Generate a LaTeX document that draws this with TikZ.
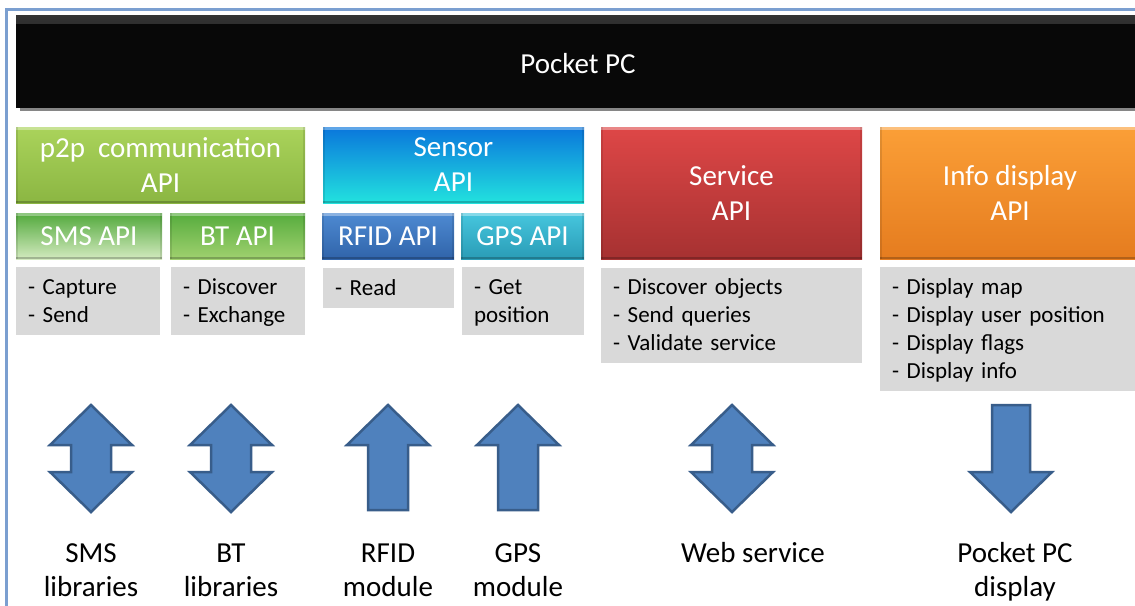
\documentclass[tikz,border=0pt]{standalone}
\usepackage{fontspec}
\setmainfont{Carlito}
\definecolor{bordercol}{HTML}{7B9FD0}
\definecolor{grayfill}{HTML}{D9D9D9}
\definecolor{p2pT}{HTML}{AAD35B}
\definecolor{p2pB}{HTML}{8BB642}
\definecolor{smsT}{HTML}{52A93C}
\definecolor{smsB}{HTML}{D3EABF}
\definecolor{btT}{HTML}{56AC3D}
\definecolor{btB}{HTML}{A0D16F}
\definecolor{senT}{HTML}{0A76DC}
\definecolor{senB}{HTML}{22E2DE}
\definecolor{rfT}{HTML}{4E8AD2}
\definecolor{rfB}{HTML}{3064AA}
\definecolor{gpT}{HTML}{46C6DE}
\definecolor{gpB}{HTML}{2A9CB6}
\definecolor{svT}{HTML}{DE4747}
\definecolor{svB}{HTML}{A63131}
\definecolor{inT}{HTML}{FB9F37}
\definecolor{inB}{HTML}{E57C1F}
\definecolor{arrF}{HTML}{4F81BD}
\definecolor{arrD}{HTML}{385D8A}
\tikzset{
  bevel/.style={path picture={
    \fill[white,opacity=.35] (path picture bounding box.north west) rectangle ([yshift=-2.5pt]path picture bounding box.north east);
    \fill[black,opacity=.22] ([yshift=2.5pt]path picture bounding box.south west) rectangle (path picture bounding box.south east);
    \fill[black,opacity=.10] (path picture bounding box.north west) rectangle ([xshift=2pt]path picture bounding box.south west);
    \fill[black,opacity=.10] ([xshift=-2pt]path picture bounding box.north east) rectangle (path picture bounding box.south east);
  }},
  hdr/.style={rectangle, draw=none, inner sep=0pt, text=white, align=center,
    font=\fontsize{29}{35}\selectfont, bevel},
  gbox/.style={rectangle, fill=grayfill, inner xsep=12pt, inner ysep=0pt,
    align=left, font=\fontsize{23}{28}\selectfont,
    execute at begin node={\rule{0pt}{21pt}},
    execute at end node={\rule[-7pt]{0pt}{7pt}}},
  lbl/.style={inner sep=0pt, align=center, font=\fontsize{29}{34}\selectfont},
  blockarrow/.style={fill=arrF, draw=arrD, line width=2.5pt, line join=miter},
  dblarrow/.pic={\draw[blockarrow] (0,405) -- (41,445) -- (20,445) -- (20,472) -- (41,472) -- (0,512) -- (-41,472) -- (-20,472) -- (-20,445) -- (-41,445) -- cycle;},
  uparrow/.pic={\draw[blockarrow] (0,405) -- (41,445) -- (20,445) -- (20,510) -- (-20,510) -- (-20,445) -- (-41,445) -- cycle;},
  downarrow/.pic={\draw[blockarrow] (-19,405) -- (19,405) -- (19,472) -- (41,472) -- (0,512) -- (-41,472) -- (-19,472) -- cycle;},
}
\begin{document}
\begin{tikzpicture}[x=1pt,y=-1pt]
\useasboundingbox (0,0) rectangle (1135,605);
\clip (0,0) rectangle (1135,605);
\fill[white] (0,0) rectangle (1135,605);
% outer frame
\draw[bordercol, line width=2.5pt] (6.5,9.5) rectangle (1200,700);
% Pocket PC bar
\fill[gray!95] (20,104) rectangle (1140,111);
\node[rectangle, fill=black!97, inner sep=0pt, minimum width=1124pt, minimum height=93pt,
  text=white, font=\fontsize{29}{35}\selectfont,
  path picture={\shade[top color=black!80, bottom color=black!97] (path picture bounding box.north west) rectangle ([yshift=-8pt]path picture bounding box.north east);}]
  (ppc) at (578,61.5) {\raisebox{-12pt}[0pt][0pt]{Pocket PC}};
% p2p
\node[hdr, top color=p2pT, bottom color=p2pB, minimum width=289pt, minimum height=76pt] (p2p) at (160.5,165) {p2p\hspace{13pt}communication\\API};
\node[hdr, top color=smsT, bottom color=smsB, minimum width=146pt, minimum height=46pt] (sms) at (89,236) {SMS API};
\node[hdr, top color=btT, bottom color=btB, minimum width=135pt, minimum height=46pt] (bt) at (237.5,236) {BT API};
\node[gbox, text width=120pt, minimum height=68pt] (smsops) at (88,301) {- Capture\\- Send};
\node[gbox, text width=110pt, minimum height=68pt] (btops) at (238,301) {- Discover\\- Exchange};
% Sensor
\node[hdr, top color=senT, bottom color=senB, minimum width=261pt, minimum height=76pt] (sensor) at (453.5,165) {Sensor\\API};
\node[hdr, top color=rfT, bottom color=rfB, minimum width=132pt, minimum height=46pt] (rfid) at (388,236) {RFID API};
\node[hdr, top color=gpT, bottom color=gpB, minimum width=123pt, minimum height=46pt] (gps) at (522.5,236) {GPS API};
\node[gbox, text width=107pt, minimum height=40pt] (rfidops) at (388.5,288) {- Read};
\node[gbox, text width=98pt, minimum height=68pt] (gpsops) at (523,301) {- Get\\position};
% Service
\node[hdr, top color=svT, bottom color=svB, minimum width=261pt, minimum height=132pt] (service) at (731.5,193) {Service\\API};
\node[gbox, text width=237pt, minimum height=95pt] (servops) at (731.5,315.5) {- Discover objects\\- Send queries\\- Validate service};
% Info display
\node[hdr, top color=inT, bottom color=inB, minimum width=260pt, minimum height=132pt] (info) at (1010,193) {Info display\\API};
\node[gbox, text width=236pt, minimum height=124pt] (infoops) at (1010,329) {- Display map\\- Display user position\\- Display flags\\- Display info};
% block arrows
\pic at (91,0) {dblarrow};
\pic at (231,0) {dblarrow};
\pic at (388,0) {uparrow};
\pic at (518,0) {uparrow};
\pic at (732,0) {dblarrow};
\pic at (1011,0) {downarrow};
% bottom labels
\node[lbl] (smslib) at (91,570) {SMS\\libraries};
\node[lbl] (btlib) at (231,570) {BT\\libraries};
\node[lbl] (rfidmod) at (388,570) {RFID\\module};
\node[lbl] (gpsmod) at (518,570) {GPS\\module};
\node[lbl] (websvc) at (753,553) {Web service};
\node[lbl] (ppcdisp) at (1015,572) {Pocket PC\\display};
\end{tikzpicture}
\end{document}
